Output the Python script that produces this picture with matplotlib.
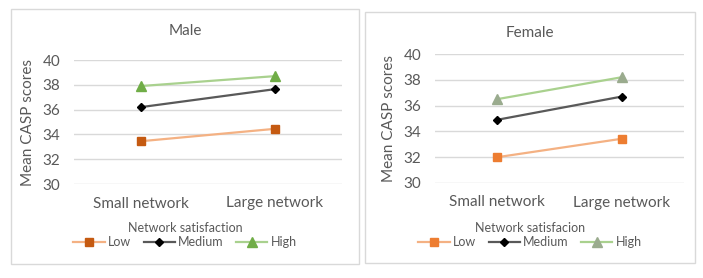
import matplotlib.pyplot as plt
from matplotlib.patches import Rectangle

categories = ["Small network", "Large network"]
levels = ["Low", "Medium", "High"]

male_low = [33.45, 34.45]
male_medium = [36.2, 37.65]
male_high = [37.9, 38.7]

female_low = [32.0, 33.43]
female_medium = [34.9, 36.7]
female_high = [36.5, 38.2]

plt.rcParams["font.family"] = ["Lato", "DejaVu Sans"]

W, H = 703, 278
fig = plt.figure(figsize=(W / 100, H / 100), dpi=100)
GREY = "#595959"


def px(x0, y0, x1, y1):
    # pixel box -> figure fraction [left, bottom, width, height]
    return [x0 / W, 1 - y1 / H, (x1 - x0) / W, (y1 - y0) / H]


def panel(box, axbox, title, title_y, legend_title, series, styles):
    fig.patches.append(Rectangle((box[0], box[1]), box[2], box[3], transform=fig.transFigure,
                                 fill=False, edgecolor="#d9d9d9", linewidth=1.0))
    ax = fig.add_axes(axbox)
    xs = list(range(len(categories)))
    for name, vals, st in zip(levels, series, styles):
        ax.plot(xs, vals, label=name, color=st[0], marker=st[1], markerfacecolor=st[2],
                markeredgecolor=st[2], markersize=st[3], linewidth=1.6)
    ax.set_xlim(-0.5, 1.5)
    ax.set_ylim(30, 40)
    ax.set_yticks([30, 32, 34, 36, 38, 40])
    ax.set_xticks(xs)
    ax.set_xticklabels(categories)
    ax.grid(axis="y", color="#d9d9d9", linewidth=1.0)
    ax.set_axisbelow(True)
    for s in ax.spines.values():
        s.set_visible(False)
    ax.tick_params(length=0, labelsize=11, labelcolor=GREY)
    ax.tick_params(axis="y", pad=10)
    ax.tick_params(axis="x", pad=9)
    ax.set_ylabel("Mean CASP scores", fontsize=11, color=GREY, labelpad=5)
    cx = box[0] + box[2] / 2
    fig.text(cx, title_y, title, ha="center", va="center", fontsize=11, color=GREY)
    fig.text(cx, 1 - 228 / H, legend_title, ha="center", va="center", fontsize=9, color=GREY)
    leg = fig.legend(*ax.get_legend_handles_labels(), loc="center", bbox_to_anchor=(cx, 1 - 242 / H),
                     ncol=3, frameon=False, fontsize=9, handlelength=2.5, columnspacing=1.0,
                     handletextpad=0.25, borderpad=0)
    for t in leg.get_texts():
        t.set_color(GREY)
    return ax


male_styles = [("#f4b183", "s", "#c55a11", 5.5), ("#595959", "D", "#000000", 4), ("#a9d18e", "^", "#70ad47", 7)]
female_styles = [("#f4b183", "s", "#ed7d31", 5.5), ("#595959", "D", "#000000", 4), ("#a9d18e", "^", "#9aab8e", 7)]

b = px(11, 9, 359, 264)
panel(b, px(74, 60, 342, 184), "Male", 1 - 31 / H, "Network satisfaction",
      [male_low, male_medium, male_high], male_styles)
b = px(365, 12, 695, 263)
panel(b, px(435, 54, 684, 183), "Female", 1 - 33 / H, "Network satisfacion",
      [female_low, female_medium, female_high], female_styles)

fig.savefig("out.png", dpi=100)
